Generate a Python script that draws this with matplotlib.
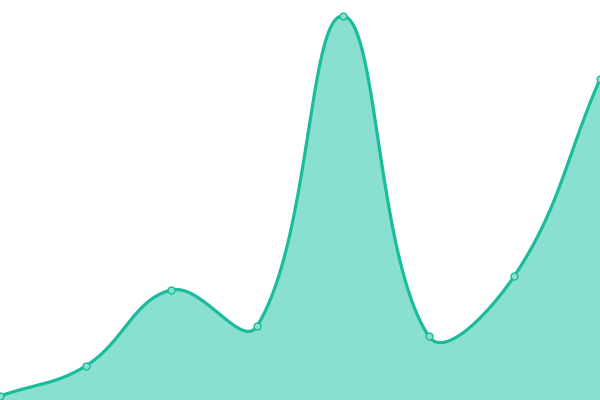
import numpy as np
import matplotlib
matplotlib.use("Agg")
import matplotlib.pyplot as plt

# values (plot spans 0..400 vertically)
labels = ["A", "B", "C", "D", "E", "F", "G", "H"]
values = [4, 34, 110, 74, 384, 64, 124, 321]

line_col = "#1abc9c"
fill_col = "#8ae0d0"

W, H = 600, 400
xs = np.linspace(0, W, len(values))
ys = np.array(values, dtype=float)


def smooth(x, y, t=0.4, n=40):
    # chart.js style bezier spline
    px, py = [], []
    cps = []
    for i in range(len(x)):
        p0 = (x[max(i - 1, 0)], y[max(i - 1, 0)])
        p1 = (x[i], y[i])
        p2 = (x[min(i + 1, len(x) - 1)], y[min(i + 1, len(x) - 1)])
        d01 = np.hypot(p1[0] - p0[0], p1[1] - p0[1])
        d12 = np.hypot(p2[0] - p1[0], p2[1] - p1[1])
        s01 = d01 / (d01 + d12) if d01 + d12 else 0
        s12 = d12 / (d01 + d12) if d01 + d12 else 0
        fa, fb = t * s01, t * s12
        prev = (p1[0] - fa * (p2[0] - p0[0]), p1[1] - fa * (p2[1] - p0[1]))
        nxt = (p1[0] + fb * (p2[0] - p0[0]), p1[1] + fb * (p2[1] - p0[1]))
        cps.append((prev, nxt))
    s = np.linspace(0, 1, n)
    for i in range(len(x) - 1):
        a = np.array([x[i], y[i]])
        b = np.array(cps[i][1])
        c = np.array(cps[i + 1][0])
        d = np.array([x[i + 1], y[i + 1]])
        pts = ((1 - s)[:, None] ** 3 * a + 3 * ((1 - s) ** 2 * s)[:, None] * b
               + 3 * ((1 - s) * s ** 2)[:, None] * c + (s ** 3)[:, None] * d)
        px.extend(pts[:, 0])
        py.extend(pts[:, 1])
    return np.array(px), np.array(py)


cx, cy = smooth(xs, ys)

fig = plt.figure(figsize=(6, 4), dpi=100)
ax = fig.add_axes([0, 0, 1, 1])
ax.fill_between(cx, 0, cy, color=fill_col, lw=0)
ax.plot(cx, cy, color=line_col, lw=2.3, solid_capstyle="round")
ax.plot(xs, ys, "o", ms=5, mfc=fill_col, mec=line_col, mew=1.0, clip_on=False)
ax.set_xlim(0, W)
ax.set_ylim(0, H)
ax.axis("off")
fig.savefig("out.png", dpi=100)
